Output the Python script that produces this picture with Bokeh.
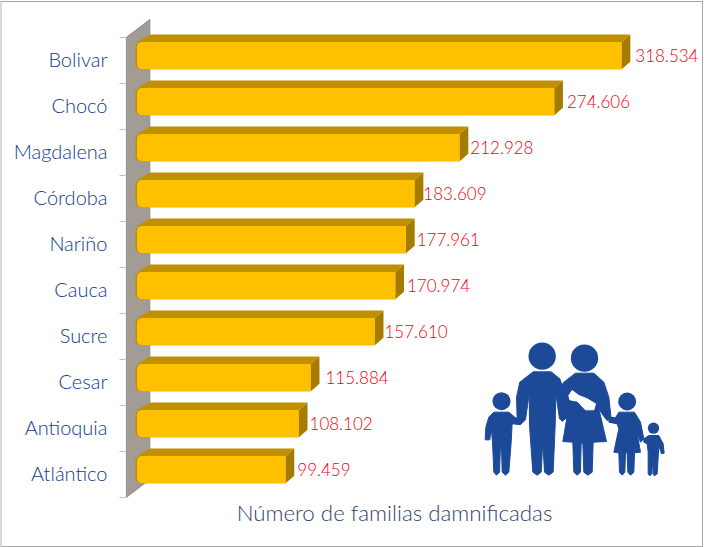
import numpy as np
from bokeh.embed import file_html
from bokeh.resources import INLINE
from bokeh.plotting import figure
from bokeh.models import Range1d, LinearAxis, FixedTicker, ColumnDataSource
from bokeh.core.properties import value

categories = ["Bolivar", "Chocó", "Magdalena", "Córdoba", "Nariño", "Cauca", "Sucre", "Cesar", "Antioquia", "Atlántico"]
families = [318534, 274606, 212928, 183609, 177961, 170974, 157610, 115884, 108102, 99459]
value_labels = ["318.534", "274.606", "212.928", "183.609", "177.961", "170.974", "157.610", "115.884", "108.102", "99.459"]
axis_title = "Número de familias damnificadas"

# ---- layout (page pixels) ----
W, H = 704, 547
F_L = 125                # the frame runs from here to the right and bottom page edges
PX_PER_UNIT = 0.001534
X_ZERO = 132.5
BAND = 46.0
BASE = 497               # page y of the lowest band edge
N = len(categories)
label_nudge = [5, 4, 2, 0, 2, 3, 1, 6, 2, 3]
FONT = "Lato Light"

p = figure(width=W, height=H, output_backend="svg", toolbar_location=None,
           x_range=Range1d((F_L - X_ZERO) / PX_PER_UNIT, (W - X_ZERO) / PX_PER_UNIT),
           y_range=Range1d((BASE - H) / BAND, BASE / BAND), x_axis_type=None, y_axis_type=None,
           min_border_left=F_L, min_border_right=0, min_border_top=0, min_border_bottom=0,
           background_fill_color="white", border_fill_color="white", outline_line_color=None)
p.grid.visible = False

def dx(px):   # horizontal pixel length to data
    return px / PX_PER_UNIT
def dy(px):
    return px / BAND
def X(px):    # page pixel to data
    return (px - X_ZERO) / PX_PER_UNIT
def Y(py):
    return (BASE - py) / BAND

# category axis: labels centred in the bands, ticks on the band edges
positions = [N - i - 0.5 + dy(1.5) for i in range(N)]
axis = LinearAxis(ticker=FixedTicker(ticks=positions, minor_ticks=list(range(N + 1))),
                  major_label_overrides={pos: c for pos, c in zip(positions, categories)})
axis.axis_line_color = None
axis.major_tick_line_color = None
axis.major_tick_out = 0
axis.major_tick_in = 0
axis.minor_tick_line_color = "#bdbdbd"
axis.minor_tick_out = 6
axis.minor_tick_in = 0
axis.major_label_standoff = 12
axis.major_label_text_font = FONT
axis.major_label_text_font_size = "20px"
axis.major_label_text_color = "#123C88"
p.add_layout(axis, "left")

# grey wall
p.patch([X(125.7), X(149.3), X(149.3), X(125.7)], [Y(37), Y(19), Y(479), Y(497)],
        fill_color="#A39C95", line_color="#8C8C8C", line_width=1)

# bars
DX, DY = 8.7, 7.5
front_xs, front_ys, rim_xs, rim_ys, top_xs, top_ys, side_xs, side_ys = [], [], [], [], [], [], [], []
t = np.linspace(0, np.pi / 2, 7)
for i, v in enumerate(families):
    yb = N - i - 1                 # lower band edge in data
    bot = yb + dy(46 - 31.7)       # front face bottom
    top = bot + dy(27.2)
    r = 5.0
    xl = -dx(X_ZERO - 135)
    arc_x = xl + dx(r) * (1 - np.cos(t))
    arc_y_top = top - dy(r) * (1 - np.sin(t))
    arc_y_bot = bot + dy(r) * (1 - np.sin(t))
    outline_x = np.r_[arc_x[::-1], arc_x, v, v]
    outline_y = np.r_[arc_y_bot[::-1], arc_y_top, top, bot]
    rim_xs.append(outline_x.tolist())
    rim_ys.append(outline_y.tolist())
    shift = dx(1.5)
    front_xs.append(np.r_[arc_x[::-1] + shift, arc_x + shift, v, v].tolist())
    front_ys.append(outline_y.tolist())
    # top face: slants back further at the wall end
    top_xs.append([xl + dx(2), xl + dx(14.5), v + dx(DX), v])
    top_ys.append([top, top + dy(DY), top + dy(DY), top])
    side_xs.append([v, v + dx(DX), v + dx(DX), v])
    side_ys.append([top, top + dy(DY), bot + dy(DY), bot])

p.patches(top_xs, top_ys, fill_color="#BF9000", line_color=None)
p.patches(side_xs, side_ys, fill_color="#A67C00", line_color=None)
p.patches(rim_xs, rim_ys, fill_color="#B8900A", line_color=None)
p.patches(front_xs, front_ys, fill_color="#FFC000", line_color=None)

# value labels
src = ColumnDataSource(dict(
    x=[v + dx(DX + n) for v, n in zip(families, label_nudge)],
    y=[N - i - 1 + dy(46 - 31.7 + 13.6) for i in range(N)],
    text=value_labels))
p.text("x", "y", text="text", source=src, text_font=value(FONT), text_font_size="17px",
       text_color="#F00010", text_align="left", text_baseline="middle")

# family pictogram, outline given in pixels of a 3x drawing anchored at (480, 330)
BLUE = "#1C4A99"
def ix(a): return [X(480 + q / 3) for q in a]
def iy(a): return [Y(330 + q / 3) for q in a]
shapes = [
    # man
    [(158,124),(212,124),(238,145),(250,180),(258,262),(246,272),(237,265),(226,190),(224,285),(218,425),(205,434),(192,425),(187,335),(182,425),(170,434),(157,425),(147,285),(146,190),(135,268),(120,282),(95,280),(105,262),(110,264),(108,200),(118,155)],
    # woman
    [(285,128),(340,128),(370,155),(385,200),(392,265),(380,270),(368,255),(355,235),(378,333),(338,335),(335,425),(322,434),(310,425),(307,338),(302,338),(300,425),(290,434),(280,425),(277,335),(247,333),(262,245),(258,262),(250,268),(240,170),(250,155)],
    # left boy
    [(40,245),(85,245),(105,262),(125,270),(120,282),(95,278),(92,335),(85,425),(75,434),(65,425),(63,345),(60,345),(57,425),(48,434),(40,425),(36,335),(32,290),(28,328),(14,328),(16,290),(25,260)],
    # girl
    [(415,245),(462,245),(480,275),(490,325),(480,335),(470,310),(480,365),(462,367),(460,425),(450,434),(442,425),(440,367),(435,367),(433,425),(425,434),(417,425),(415,367),(400,365),(415,295),(410,280),(385,275),(388,260),(405,262)],
    # small child
    [(505,315),(535,315),(548,340),(551,368),(543,370),(535,345),(533,380),(530,430),(522,436),(518,430),(516,385),(514,430),(508,436),(503,430),(503,365),(500,340),(490,335),(490,325)],
]
p.patches([ix([q[0] for q in s]) for s in shapes], [iy([q[1] for q in s]) for s in shapes],
          fill_color=BLUE, line_color=BLUE, line_width=1, line_join="round")
heads_x, heads_y, heads_r = [185, 312, 63, 440, 519], [77, 83, 212, 213, 293], [41, 41, 27, 27, 17]
p.scatter(ix(heads_x), iy(heads_y), size=[2 * r / 3 for r in heads_r], marker="circle",
          fill_color=BLUE, line_color=None)
baby = [(265,195),(275,180),(295,195),(320,205),(345,220),(340,238),(315,238),(290,212),(268,208)]
p.patch(ix([q[0] for q in baby]), iy([q[1] for q in baby]), fill_color="white", line_color="white", line_width=1, line_join="round")

# axis title
p.text([X(394)], [Y(512)], text=[axis_title], text_font=value(FONT), text_font_size="22.3px",
       text_color="#2F4468", text_align="center", text_baseline="middle")

html = file_html(p, INLINE)
css = ("html,body{margin:0;padding:0;overflow:hidden}"
       "body::after{content:'';position:fixed;left:0;top:1px;width:700px;height:544px;"
       "border:1px solid #A6A6A6;border-left:2px solid #D9D9D9;z-index:10;pointer-events:none}")
html = html.replace("<head>", "<head><style>" + css + "</style>", 1)
open("out.html", "w").write(html)
